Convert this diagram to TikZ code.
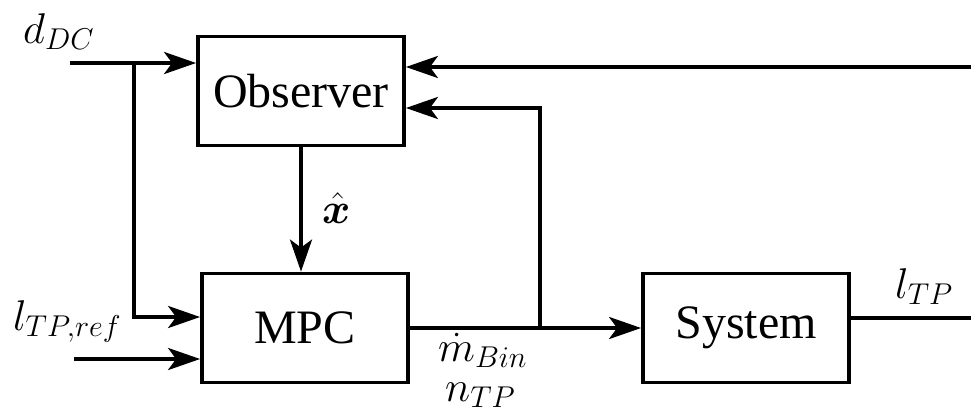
\RequirePackage{fix-cm}
\documentclass[tikz,border=0pt]{standalone}
\usepackage{bm}
\usepackage{fontspec}
\setmainfont{Liberation Serif}
\usetikzlibrary{arrows.meta}

\tikzset{
  block/.style={draw, line width=3.8pt, minimum width=206pt, minimum height=109pt,
                inner sep=0pt, font=\fontsize{48}{56}\selectfont},
  sig/.style={line width=3.8pt, -{Stealth[length=32pt,width=22pt,inset=8pt]}},
  wire/.style={line width=3.8pt},
  lbl/.style={inner sep=0pt, anchor=base west, font=\fontsize{43}{50}\selectfont},
}

\begin{document}
\begin{tikzpicture}[x=1pt, y=-1pt]
\useasboundingbox (0,0) rectangle (971,410);

% blocks
\node[block] (obs) at (301,91)  {Observer};
\node[block] (mpc) at (305,328) {MPC};
\node[block] (sys) at (746,328) {System};

% free ends and branch points
\coordinate (dIn)  at (70,63);
\coordinate (br)   at (134,63);
\coordinate (refIn) at (74,359);
\coordinate (sp)   at (540,328);
\coordinate (fb)   at (971,67);
\coordinate (yo)   at (971,318);

% inputs
\draw[sig] (dIn) -- (obs.west |- dIn);
\draw[sig] (br) |- ([yshift=11pt]mpc.west);
\draw[sig] (refIn) -- (mpc.west |- refIn);

% observer estimate to the controller
\draw[sig] (obs.south) -- (obs.south |- mpc.north);

% controller output to the plant, fed back to the observer
\draw[sig] (mpc.east) -- (sys.west);
\draw[sig] (sp) |- ([yshift=-17pt]obs.east);

% measured output and its feedback
\draw[wire] ([yshift=10pt]sys.east) -- (yo);
\draw[sig] (fb) -- (obs.east |- fb);

% labels
\node[lbl] (ldc)  at (23,43)   {$d_{DC}$};
\node[lbl] (lrf)  at (13,330)  {$l_{TP,ref}$};
\node[lbl] (lx)   at (322,223) {$\hat{\bm{x}}$};
\node[lbl] (lm)   at (438,361) {$\dot{m}_{Bin}$};
\node[lbl] (ln)   at (445,401) {$n_{TP}$};
\node[lbl] (ltp)  at (895,298) {$l_{TP}$};
\end{tikzpicture}
\end{document}
